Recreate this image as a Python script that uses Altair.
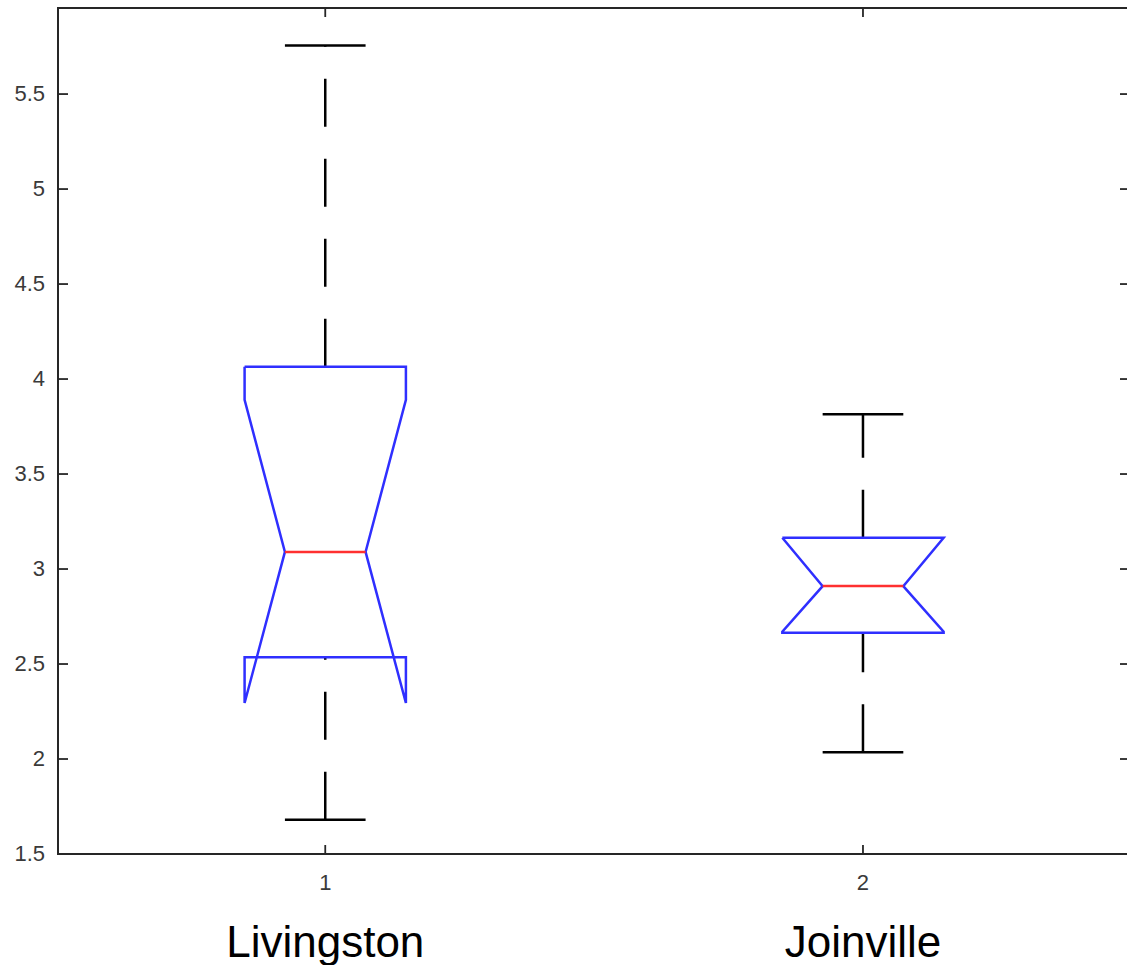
import altair as alt
import pandas as pd

# Summary statistics for the two sites
groups = ["Livingston", "Joinville"]
positions = [1, 2]
whisker_lo = [1.68, 2.035]
q1 = [2.535, 2.665]
medians = [3.09, 2.91]
q3 = [4.065, 3.165]
whisker_hi = [5.755, 3.815]
notch_lo = [2.295, 2.67]
notch_hi = [3.89, 3.165]

box_half = 0.15
y_ticks = [1.5, 2, 2.5, 3, 3.5, 4, 4.5, 5, 5.5]
y_labels = ["1.5", "2", "2.5", "3", "3.5", "4", "4.5", "5", "5.5"]
x_ticks = [1, 2]
x_labels = ["1", "2"]

W, H = 1069, 846
FONT = "Liberation Sans"
AXIS_COLOR = "#262626"
LABEL_COLOR = "#3a3a3a"

stats = pd.DataFrame({
    "group": groups, "pos": positions,
    "wlo": whisker_lo, "q1": q1, "med": medians, "q3": q3, "whi": whisker_hi,
})
stats["half_l"] = stats["pos"] - box_half / 2
stats["half_r"] = stats["pos"] + box_half / 2

# Notched box outline, traced as a closed polyline
rows = []
for g, x, a, b, m, nl, nh in zip(groups, positions, q1, q3, medians, notch_lo, notch_hi):
    w = box_half
    pts = [(x - w, b), (x + w, b), (x + w, nh), (x + w / 2, m), (x + w, nl),
           (x + w, a), (x - w, a), (x - w, nl), (x - w / 2, m), (x - w, nh), (x - w, b)]
    for k, (px, py) in enumerate(pts):
        rows.append({"group": g, "k": k, "x": px, "y": py})
outline = pd.DataFrame(rows)

xs = alt.Scale(domain=[0.503, 2.491], nice=False, zero=False)
ys = alt.Scale(domain=[1.5, 5.953], nice=False, zero=False)


def X(field):
    return alt.X(field, scale=xs, axis=None)


def Y(field):
    return alt.Y(field, scale=ys, axis=None)


one = pd.DataFrame({"a": [0]})
frame = alt.layer(
    alt.Chart(one).mark_rule(color=AXIS_COLOR, strokeWidth=2).encode(
        x=alt.value(0), x2=alt.value(W + 5), y=alt.value(0)),
    alt.Chart(one).mark_rule(color=AXIS_COLOR, strokeWidth=2).encode(
        x=alt.value(0), x2=alt.value(W + 5), y=alt.value(H)),
    alt.Chart(one).mark_rule(color=AXIS_COLOR, strokeWidth=2).encode(
        x=alt.value(0), y=alt.value(-1), y2=alt.value(H + 1)),
)

# Inward-pointing ticks on all four sides, plus tick labels
yt = pd.DataFrame({"v": y_ticks, "label": y_labels})
xt = pd.DataFrame({"v": x_ticks, "label": x_labels})
tick_style = dict(color=AXIS_COLOR, strokeWidth=1.8)
ticks = alt.layer(
    alt.Chart(yt).mark_rule(**tick_style).encode(
        y=Y("v:Q"), x=alt.value(0), x2=alt.value(10)),
    alt.Chart(yt).mark_rule(**tick_style).encode(
        y=Y("v:Q"), x=alt.value(W - 7), x2=alt.value(W)),
    alt.Chart(xt).mark_rule(**tick_style).encode(
        x=X("v:Q"), y=alt.value(H - 9), y2=alt.value(H)),
    alt.Chart(xt).mark_rule(**tick_style).encode(
        x=X("v:Q"), y=alt.value(0), y2=alt.value(9)),
    alt.Chart(yt).mark_text(font=FONT, fontSize=22, color=LABEL_COLOR,
                            align="right", baseline="middle").encode(
        y=Y("v:Q"), x=alt.value(-13), text="label:N"),
    alt.Chart(xt).mark_text(font=FONT, fontSize=22, color=LABEL_COLOR,
                            align="center", baseline="top").encode(
        x=X("v:Q"), y=alt.value(H + 19), text="label:N"),
)

base = alt.Chart(stats)
dash = [48, 32]
LW = 2.5
upper_whisker = base.mark_rule(color="black", strokeWidth=LW, strokeDash=dash).encode(
    x=X("pos:Q"), y=Y("q3:Q"), y2="whi:Q")
lower_whisker = base.mark_rule(color="black", strokeWidth=LW, strokeDash=dash).encode(
    x=X("pos:Q"), y=Y("wlo:Q"), y2="q1:Q")
cap_hi = base.mark_rule(color="black", strokeWidth=LW).encode(
    x=X("half_l:Q"), x2="half_r:Q", y=Y("whi:Q"))
cap_lo = base.mark_rule(color="black", strokeWidth=LW).encode(
    x=X("half_l:Q"), x2="half_r:Q", y=Y("wlo:Q"))

box = alt.Chart(outline).mark_line(color="#2f2fff", strokeWidth=LW, strokeJoin="miter").encode(
    x=X("x:Q"), y=Y("y:Q"), detail="group:N", order="k:Q")

median_line = base.mark_rule(color="#ff3030", strokeWidth=LW).encode(
    x=X("half_l:Q"), x2="half_r:Q", y=Y("med:Q"))

names = base.mark_text(font=FONT, fontSize=44, color="black",
                       align="center", baseline="alphabetic").encode(
    x=X("pos:Q"), y=alt.value(949), text="group:N")

chart = alt.layer(
    frame, ticks, upper_whisker, lower_whisker, cap_hi, cap_lo, box, median_line, names
).properties(
    width=W, height=H,
    autosize=alt.AutoSizeParams(type="none"),
    padding={"left": 58, "top": 8, "right": 0, "bottom": 111},
).configure_view(stroke=None).configure(background="white")

chart.save("out.html", embed_options={"renderer": "svg", "actions": False})
